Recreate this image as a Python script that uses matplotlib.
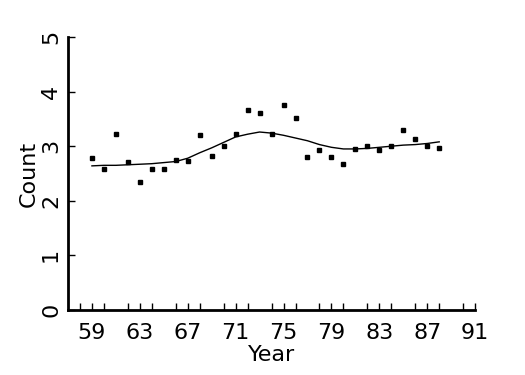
import matplotlib
matplotlib.use("Agg")
from matplotlib import pyplot as plt
from matplotlib.ticker import MultipleLocator

years = list(range(59, 89))
counts = [2.78, 2.58, 3.22, 2.71, 2.34, 2.58, 2.58, 2.75, 2.73, 3.20,
          2.82, 3.00, 3.22, 3.66, 3.61, 3.22, 3.75, 3.52, 2.80, 2.93,
          2.80, 2.67, 2.95, 3.00, 2.93, 3.00, 3.30, 3.13, 3.00, 2.97]

# smoothed trend
smooth = [2.64, 2.65, 2.65, 2.66, 2.67, 2.68, 2.70, 2.72, 2.78, 2.88,
          2.97, 3.07, 3.17, 3.22, 3.26, 3.24, 3.20, 3.15, 3.10, 3.03,
          2.98, 2.95, 2.95, 2.96, 2.98, 3.00, 3.02, 3.03, 3.05, 3.08]

xticks = [59, 63, 67, 71, 75, 79, 83, 87, 91]
yticks = [0, 1, 2, 3, 4, 5]

fig = plt.figure(figsize=(5.25, 3.75), dpi=100)
ax = fig.add_axes([0.1295, 0.1733, 0.7755, 0.728])

ax.plot(years, smooth, color="black", linewidth=1.0)
ax.plot(years, counts, "s", color="black", markersize=2.5)

ax.set_xlim(57, 91)
ax.set_ylim(0, 5)
ax.set_xticks(xticks)
ax.xaxis.set_minor_locator(MultipleLocator(2))
ax.set_yticks(yticks)

for side in ["top", "right"]:
    ax.spines[side].set_visible(False)
for side in ["left", "bottom"]:
    ax.spines[side].set_linewidth(2)

ax.tick_params(axis="both", which="both", direction="in", length=5,
               width=1, labelsize=16)
ax.tick_params(axis="x", pad=9)
ax.tick_params(axis="y", pad=5)
for lab in ax.get_yticklabels():
    lab.set_rotation(90)
    lab.set_va("center")

ax.set_xlabel("Year", fontsize=16, labelpad=2)
ax.set_ylabel("Count", fontsize=16, labelpad=2)

fig.savefig("out.png", dpi=100)
